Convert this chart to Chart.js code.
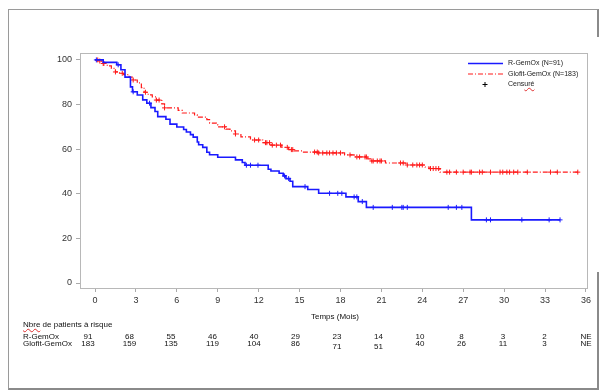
<!DOCTYPE html>
<html>
<head>
<meta charset="utf-8">
<script src="https://cdn.jsdelivr.net/npm/chart.js@4.4.1/dist/chart.umd.min.js"></script>
<style>
  body { margin: 0; background: #fff; font-family: "Liberation Sans", Arial, sans-serif; }
  #wrap { position: relative; width: 605px; height: 391px; overflow: hidden; }
  #frame { position: absolute; left: 8px; top: 9px; width: 588px; height: 378px;
           border-left: 1px solid #9a9a9a; border-top: 1px solid #9a9a9a;
           border-right: 2px solid #8a8a8a; border-bottom: 2px solid #8a8a8a; }
  #cover { position: absolute; left: 593px; top: 37px; width: 8px; height: 235px; background: #fff; }
  canvas { position: absolute; left: 0; top: 0; }
  .t { position: absolute; color: #111; white-space: nowrap; line-height: 9px; }
  .num { width: 30px; text-align: center; font-size: 8px; }
  .lab { font-size: 8px; }
  .leg { font-size: 7px; color: #222; line-height: 8px; }
  .wavy { text-decoration: underline wavy #e03030; text-decoration-thickness: 1px; text-underline-offset: 1px; }
</style>
</head>
<body>
<div id="wrap">
  <div id="frame"></div>
  <div id="cover"></div>
  <canvas id="km" width="605" height="391"></canvas>
  <div id="texts"></div>
</div>
<script>
// R-GemOx (N=91): event times (mois) et survie (%)
const rTimes = [0, 0.6, 1.6, 1.9, 2.2, 2.6, 2.75, 3.1, 3.5, 3.8, 4.1, 4.4, 4.6, 5.2, 5.5, 6.0, 6.5, 6.7, 7.0, 7.2, 7.5, 7.6, 7.9, 8.2, 8.4, 9.0, 10.3, 10.8, 11.0, 12.7, 12.9, 13.5, 13.8, 14.0, 14.3, 14.5, 15.6, 16.4, 18.4, 19.3, 19.9, 27.6, 34.1];
const rSurv  = [100, 98.9, 97.8, 95.6, 92.3, 87.9, 85.7, 84.3, 82.1, 80.6, 78.6, 76.9, 74.6, 73.4, 71.2, 69.9, 68.8, 67.7, 66.5, 65.4, 63.2, 62.0, 60.8, 58.6, 57.5, 56.4, 55.2, 54.0, 52.8, 51.0, 50.2, 49.2, 48.0, 46.8, 45.6, 43.2, 41.9, 40.2, 38.6, 36.5, 33.9, 28.3, 28.3];
const rCens  = [0.1, 1.7, 2.8, 4.0, 11.1, 11.4, 11.95, 13.9, 14.2, 15.4, 17.2, 17.8, 18.1, 19.0, 19.2, 19.6, 20.4, 21.8, 22.5, 22.6, 22.9, 25.9, 26.5, 26.9, 28.7, 29.0, 31.3, 33.3, 34.1];

// Glofit-GemOx (N=183)
const gTimes = [0, 0.3, 0.6, 0.9, 1.2, 1.5, 1.8, 2.1, 2.5, 2.8, 3.1, 3.4, 3.6, 3.9, 4.2, 4.5, 4.9, 5.1, 6.1, 6.4, 7.3, 7.5, 8.2, 8.4, 8.9, 9.0, 9.6, 9.9, 10.3, 10.7, 11.4, 12.3, 12.9, 13.7, 14.2, 14.6, 15.2, 16.4, 18.3, 19.0, 20.0, 20.2, 21.3, 22.8, 24.2, 24.5, 25.3, 35.5];
const gSurv  = [100, 99.5, 98.4, 97.3, 96.2, 94.6, 94.0, 93.4, 92.3, 91.0, 89.7, 87.6, 85.5, 84.3, 83.4, 82.0, 80.3, 78.5, 77.4, 76.2, 75.4, 74.4, 73.2, 71.7, 70.9, 70.0, 69.0, 68.2, 66.8, 65.5, 64.1, 62.9, 61.8, 60.8, 59.8, 59.2, 58.7, 58.3, 57.4, 56.5, 55.6, 54.7, 53.8, 52.9, 52.0, 51.3, 49.7, 49.7];
const gCens  = [0.2, 0.35, 0.6, 0.65, 1.5, 2.0, 2.8, 3.7, 4.5, 4.7, 5.1, 9.5, 10.3, 11.7, 12.0, 12.5, 12.6, 12.8, 13.0, 13.3, 13.6, 14.1, 14.4, 14.5, 16.1, 16.3, 16.4, 16.7, 17.0, 17.2, 17.45, 17.7, 18.0, 18.7, 19.2, 19.4, 19.8, 19.9, 20.3, 20.4, 20.7, 20.9, 21.0, 22.4, 22.6, 22.9, 23.3, 23.6, 23.8, 24.0, 24.6, 24.8, 25.0, 25.2, 25.8, 26.0, 26.5, 27.0, 27.5, 27.6, 28.2, 28.4, 29.0, 29.7, 29.9, 30.2, 30.4, 30.7, 31.0, 31.7, 33.4, 33.9, 35.4];

const xTicks = [0, 3, 6, 9, 12, 15, 18, 21, 24, 27, 30, 33, 36];
const yTicks = [0, 20, 40, 60, 80, 100];

// Nombre de patients à risque
const riskLabels = ["R-GemOx", "Glofit-GemOx"];
const riskR = ["91", "68", "55", "46", "40", "29", "23", "14", "10", "8", "3", "2", "NE"];
const riskG = ["183", "159", "135", "119", "104", "86", "71", "51", "40", "26", "11", "3", "NE"];

const BLUE = "#1a1aff";
const RED = "#ff1a1a";

function toPoints(times, surv) {
    return times.map((t, i) => ({ x: t, y: surv[i] }));
}
// valeur de la courbe au temps t (pour poser les marques de censure)
function survAt(times, surv, t) {
    let s = surv[0];
    for (let i = 0; i < times.length; i++) {
        if (times[i] <= t) s = surv[i];
    }
    return s;
}
function censPoints(cens, times, surv) {
    return cens.map(t => ({ x: t, y: survAt(times, surv, t) }));
}

const framePlugin = {
    id: 'framePlugin',
    afterDraw(chart) {
        const { ctx, chartArea: a } = chart;
        ctx.save();
        ctx.strokeStyle = "#b8b8b8";
        ctx.lineWidth = 1;
        ctx.strokeRect(a.left + 0.5, a.top + 0.5, a.right - a.left - 1, a.bottom - a.top);
        // échantillons de légende
        ctx.lineWidth = 1.5;
        ctx.strokeStyle = BLUE;
        ctx.beginPath(); ctx.moveTo(468, 63.5); ctx.lineTo(503, 63.5); ctx.stroke();
        ctx.lineWidth = 1.2;
        ctx.strokeStyle = RED;
        ctx.setLineDash([5, 2, 1, 2]);
        ctx.beginPath(); ctx.moveTo(468, 74); ctx.lineTo(503, 74); ctx.stroke();
        ctx.setLineDash([]);
        ctx.lineWidth = 1;
        ctx.strokeStyle = "#000";
        ctx.beginPath();
        ctx.moveTo(482.5, 84.5); ctx.lineTo(487.5, 84.5);
        ctx.moveTo(485, 82); ctx.lineTo(485, 87);
        ctx.stroke();
        ctx.restore();
    }
};

const ctx = document.getElementById('km').getContext('2d');
new Chart(ctx, {
    data: {
        datasets: [
            {
                type: 'line',
                label: 'R-GemOx (N=91)',
                data: toPoints(rTimes, rSurv),
                stepped: 'before',
                borderColor: BLUE,
                borderWidth: 1.6,
                pointRadius: 0,
                fill: false
            },
            {
                type: 'line',
                label: 'Glofit-GemOx (N=183)',
                data: toPoints(gTimes, gSurv),
                stepped: 'before',
                borderColor: RED,
                borderWidth: 1.2,
                borderDash: [5, 2, 1, 2],
                pointRadius: 0,
                fill: false
            },
            {
                type: 'scatter',
                label: 'Censuré R',
                data: censPoints(rCens, rTimes, rSurv),
                pointStyle: 'cross',
                pointRadius: 2.5,
                borderColor: BLUE,
                borderWidth: 1
            },
            {
                type: 'scatter',
                label: 'Censuré G',
                data: censPoints(gCens, gTimes, gSurv),
                pointStyle: 'cross',
                pointRadius: 2.5,
                borderColor: RED,
                borderWidth: 1
            }
        ]
    },
    options: {
        responsive: false,
        animation: false,
        events: [],
        layout: { padding: { top: 53, right: 17, left: 0, bottom: 0 } },
        plugins: { legend: { display: false }, tooltip: { enabled: false } },
        scales: {
            x: {
                type: 'linear',
                min: -1.1,
                max: 36.15,
                afterBuildTicks: (scale) => { scale.ticks = xTicks.map(v => ({ value: v })); },
                afterFit: (scale) => { scale.height = 103; },
                grid: { drawOnChartArea: false, drawTicks: true, tickLength: 4, color: "#aaaaaa" },
                border: { display: false },
                ticks: { color: "#333", padding: 3, font: { family: "Liberation Sans", size: 9 }, maxRotation: 0 }
            },
            y: {
                type: 'linear',
                min: -2.24,
                max: 103.1,
                afterBuildTicks: (scale) => { scale.ticks = yTicks.map(v => ({ value: v })); },
                afterFit: (scale) => { scale.width = 80; },
                grid: { drawOnChartArea: false, drawTicks: true, tickLength: 4, color: "#aaaaaa" },
                border: { display: false },
                ticks: { color: "#333", padding: 4, font: { family: "Liberation Sans", size: 9 } }
            }
        }
    },
    plugins: [framePlugin]
});

// textes : légende, titre de l'axe, tableau des patients à risque
const box = document.getElementById('texts');
function addText(html, cls, left, top) {
    const d = document.createElement('div');
    d.className = 't ' + cls;
    d.style.left = left + 'px';
    d.style.top = top + 'px';
    d.innerHTML = html;
    box.appendChild(d);
}
addText('R-GemOx (N=91)', 'leg', 508, 59);
addText('Glofit-GemOx (N=183)', 'leg', 508, 70);
addText('Cens<span class="wavy">uré</span>', 'leg', 508, 80);
addText('Temps (Mois)', 'lab', 311, 312);
addText('<span class="wavy">Nbre</span> de patients à risque', 'lab', 23, 320);
addText(riskLabels[0], 'lab', 23, 332);
addText(riskLabels[1], 'lab', 23, 339);
riskR.forEach((v, i) => addText(v, 'num', 88 + i * 41.5 - 15, 332));
riskG.forEach((v, i) => {
    const drop = (i === 6 || i === 7) ? 3 : 0;
    addText(v, 'num', 88 + i * 41.5 - 15, 339 + drop);
});
</script>
</body>
</html>
